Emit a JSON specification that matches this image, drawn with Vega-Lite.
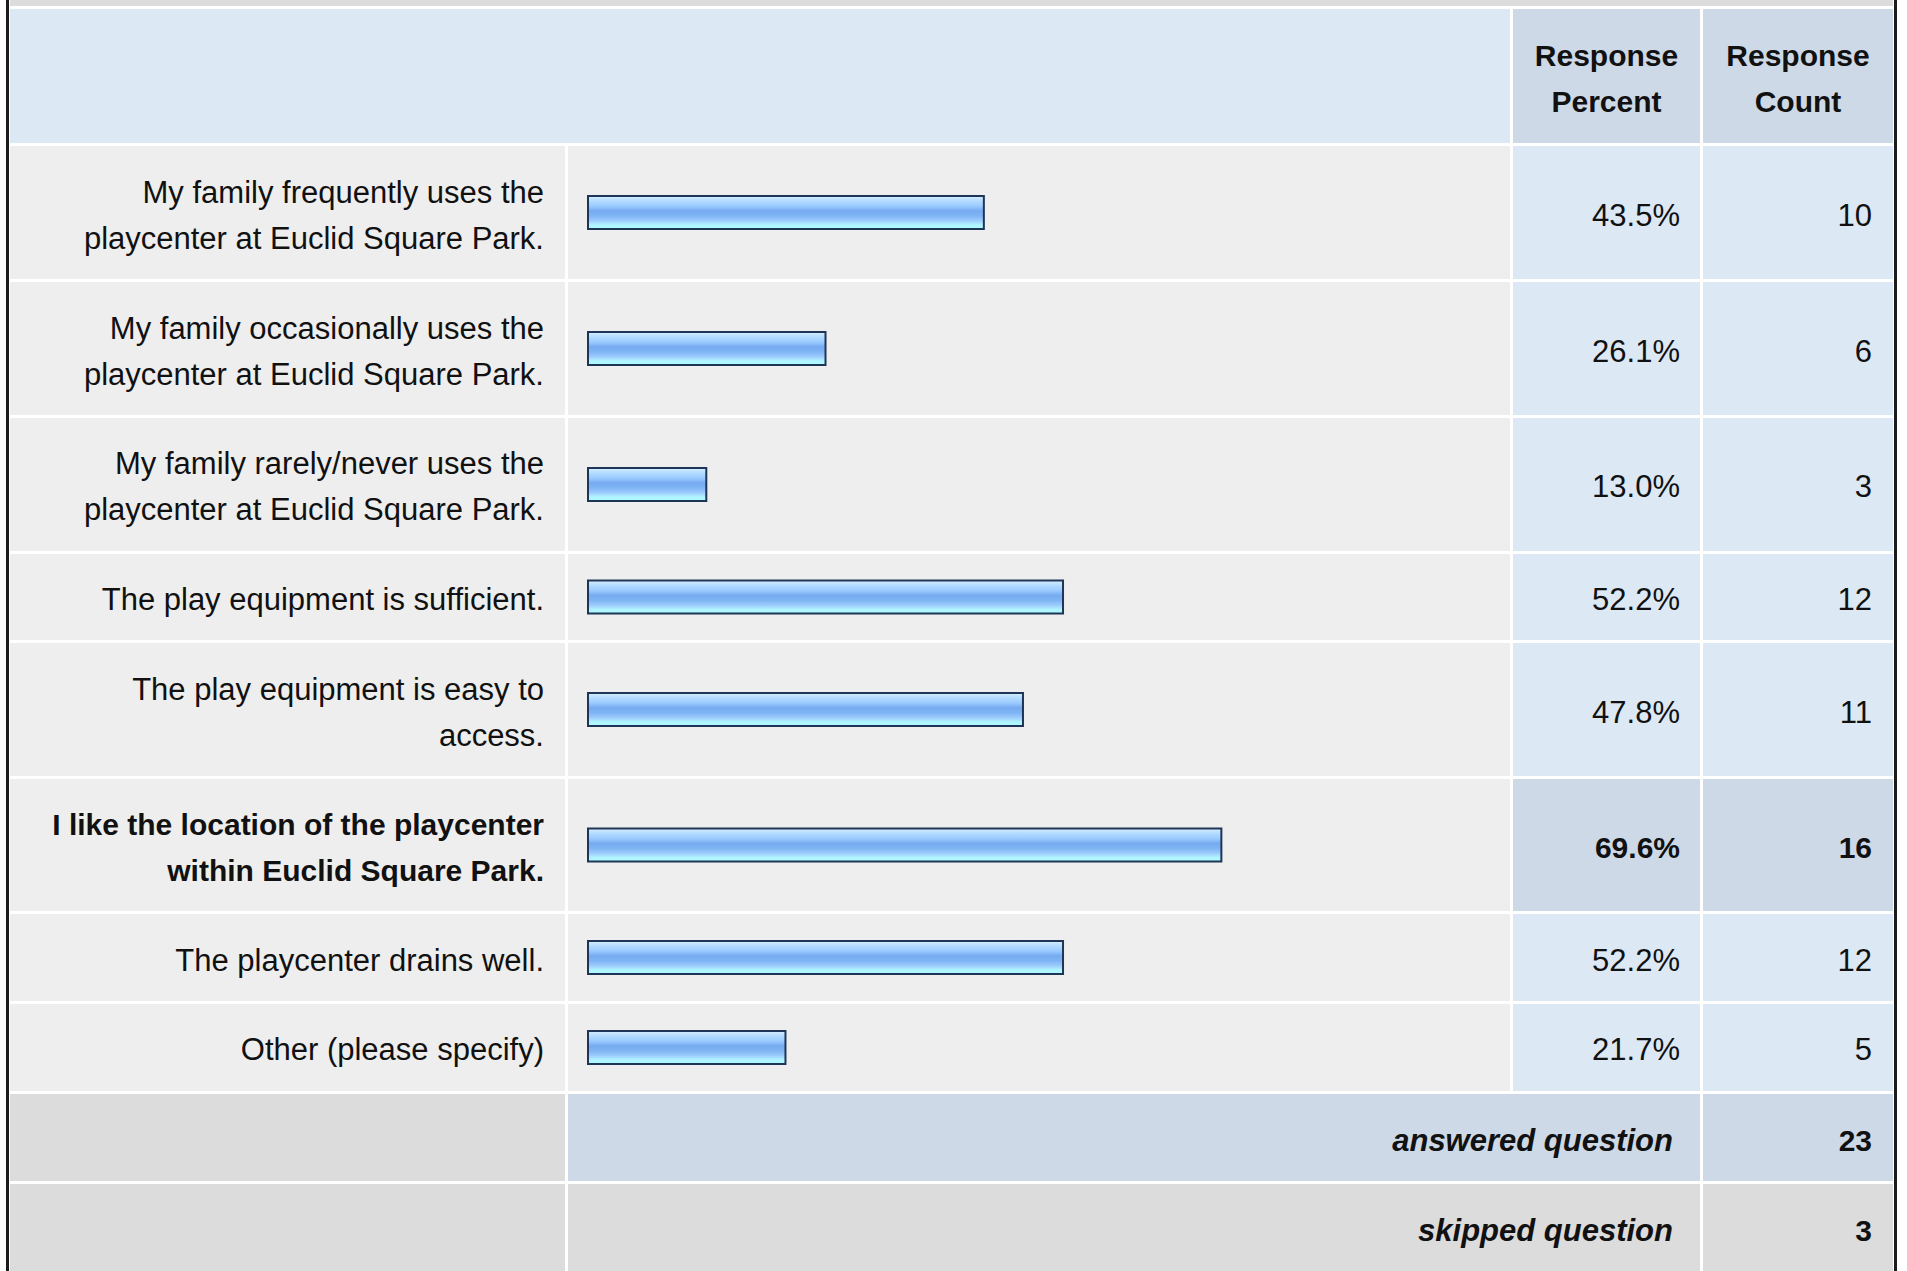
{
  "$schema": "https://vega.github.io/schema/vega-lite/v6.json",
  "padding": {"left": 6, "top": 0, "right": 0, "bottom": 0},
  "background": "white",
  "config": {
    "view": {"stroke": null},
    "font": "Liberation Sans",
    "text": {"font": "Liberation Sans", "fontSize": 31, "color": "#111111"},
    "concat": {"spacing": 3}
  },
  "datasets": {
    "rows": [
      {"id": 1, "answer": "My family frequently uses the\nplaycenter at Euclid Square Park.", "pct": 0.435, "count": 10},
      {"id": 2, "answer": "My family occasionally uses the\nplaycenter at Euclid Square Park.", "pct": 0.261, "count": 6},
      {"id": 3, "answer": "My family rarely/never uses the\nplaycenter at Euclid Square Park.", "pct": 0.130, "count": 3},
      {"id": 4, "answer": "The play equipment is sufficient.", "pct": 0.522, "count": 12},
      {"id": 5, "answer": "The play equipment is easy to\naccess.", "pct": 0.478, "count": 11},
      {"id": 6, "answer": "I like the location of the playcenter\nwithin Euclid Square Park.", "pct": 0.696, "count": 16},
      {"id": 7, "answer": "The playcenter drains well.", "pct": 0.522, "count": 12},
      {"id": 8, "answer": "Other (please specify)", "pct": 0.217, "count": 5}
    ],
    "totals": [
      {"label": "answered question", "n": 23},
      {"label": "skipped question", "n": 3}
    ],
    "headers": [
      {"col": "pct", "h": "Response\nPercent"},
      {"col": "count", "h": "Response\nCount"}
    ]
  },
  "spacing": 1,
  "hconcat": [
    {"width": 3, "height": 1271, "data": {"values": [{}]}, "mark": {"type": "rect", "opacity": 0}, "encoding": {}, "view": {"fill": "#1c1c1c", "stroke": null}},
    {
      "spacing": 3,
      "vconcat": [
        {"width": 1883, "height": 6, "data": {"values": [{}]}, "mark": {"type": "rect", "opacity": 0}, "encoding": {}, "view": {"fill": "#dcdcdc", "stroke": null}},
        {
          "hconcat": [
            {"width": 1500, "height": 134, "data": {"values": [{}]}, "mark": {"type": "rect", "opacity": 0}, "encoding": {}, "view": {"fill": "#dde8f5", "stroke": null}},
            {"width": 187, "height": 134, "data": {"name": "headers"}, "transform": [{"filter": "datum.col == 'pct'"}], "view": {"fill": "#cdd9e6", "stroke": null},
             "mark": {"type": "text", "fontWeight": "bold", "fontSize": 30, "lineBreak": "\n", "lineHeight": 46, "baseline": "middle", "align": "center", "dy": -19},
             "encoding": {"text": {"field": "h"}, "x": {"field": "h", "type": "nominal", "axis": null}, "y": {"field": "h", "type": "nominal", "axis": null}}},
            {"width": 190, "height": 134, "data": {"name": "headers"}, "transform": [{"filter": "datum.col == 'count'"}], "view": {"fill": "#cdd9e6", "stroke": null},
             "mark": {"type": "text", "fontWeight": "bold", "fontSize": 30, "lineBreak": "\n", "lineHeight": 46, "baseline": "middle", "align": "center", "dy": -19},
             "encoding": {"text": {"field": "h"}, "x": {"field": "h", "type": "nominal", "axis": null}, "y": {"field": "h", "type": "nominal", "axis": null}}}
          ]
        },
        {
          "hconcat": [
            {"width": 555, "height": 405, "data": {"name": "rows"}, "transform": [{"filter": "datum.id <= 3"}],
             "encoding": {"y": {"field": "id", "type": "ordinal", "axis": null, "scale": {"type": "band", "paddingInner": 0.022, "paddingOuter": 0}}},
             "layer": [
               {"mark": {"type": "rect", "color": "#eeeeee"}, "encoding": {"x": {"value": 0}, "x2": {"value": "width"}}},
               {"mark": {"type": "text", "align": "right", "baseline": "middle", "dx": -21, "dy": -19, "lineBreak": "\n", "lineHeight": 46}, "encoding": {"x": {"value": "width"}, "text": {"field": "answer"}}}
             ]},
            {"width": 942, "height": 405, "data": {"name": "rows"}, "transform": [{"filter": "datum.id <= 3"}],
             "encoding": {"y": {"field": "id", "type": "ordinal", "axis": null, "scale": {"type": "band", "paddingInner": 0.022, "paddingOuter": 0}}},
             "layer": [
               {"mark": {"type": "rect", "color": "#eeeeee"}, "encoding": {"x": {"value": 0}, "x2": {"value": "width"}}},
               {"mark": {"type": "bar", "size": 33, "stroke": "#1e3557", "strokeWidth": 2, "fill": {"gradient": "linear", "x1": 0, "y1": 0, "x2": 0, "y2": 1, "stops": [{"offset": 0, "color": "#d8eeff"}, {"offset": 0.15, "color": "#b3dbff"}, {"offset": 0.3, "color": "#9bcbff"}, {"offset": 0.45, "color": "#76abf1"}, {"offset": 0.6, "color": "#7fb4f4"}, {"offset": 0.75, "color": "#9dccfd"}, {"offset": 0.87, "color": "#b0f2ff"}, {"offset": 1, "color": "#aefefe"}]}},
                "encoding": {"x": {"field": "pct", "type": "quantitative", "axis": null, "scale": {"domain": [0, 1], "range": [20, 930]}}}}
             ]},
            {"width": 187, "height": 405, "data": {"name": "rows"}, "transform": [{"filter": "datum.id <= 3"}],
             "encoding": {"y": {"field": "id", "type": "ordinal", "axis": null, "scale": {"type": "band", "paddingInner": 0.022, "paddingOuter": 0}}},
             "layer": [
               {"mark": {"type": "rect", "color": "#dde8f5"}, "encoding": {"x": {"value": 0}, "x2": {"value": "width"}}},
               {"mark": {"type": "text", "align": "right", "baseline": "middle", "dx": -20, "dy": 4}, "encoding": {"x": {"value": "width"}, "text": {"field": "pct", "type": "quantitative", "format": ".1%"}}}
             ]},
            {"width": 190, "height": 405, "data": {"name": "rows"}, "transform": [{"filter": "datum.id <= 3"}],
             "encoding": {"y": {"field": "id", "type": "ordinal", "axis": null, "scale": {"type": "band", "paddingInner": 0.022, "paddingOuter": 0}}},
             "layer": [
               {"mark": {"type": "rect", "color": "#dde8f5"}, "encoding": {"x": {"value": 0}, "x2": {"value": "width"}}},
               {"mark": {"type": "text", "align": "right", "baseline": "middle", "dx": -21, "dy": 4}, "encoding": {"x": {"value": "width"}, "text": {"field": "count", "type": "quantitative"}}}
             ]}
          ]
        },
        {
          "hconcat": [
            {"width": 555, "height": 86, "data": {"name": "rows"}, "transform": [{"filter": "datum.id == 4"}],
             "encoding": {"y": {"field": "id", "type": "ordinal", "axis": null, "scale": {"type": "band", "paddingInner": 0, "paddingOuter": 0}}},
             "layer": [
               {"mark": {"type": "rect", "color": "#eeeeee"}, "encoding": {"x": {"value": 0}, "x2": {"value": "width"}}},
               {"mark": {"type": "text", "align": "right", "baseline": "middle", "dx": -21, "dy": 4, "lineBreak": "\n", "lineHeight": 46}, "encoding": {"x": {"value": "width"}, "text": {"field": "answer"}}}
             ]},
            {"width": 942, "height": 86, "data": {"name": "rows"}, "transform": [{"filter": "datum.id == 4"}],
             "encoding": {"y": {"field": "id", "type": "ordinal", "axis": null, "scale": {"type": "band", "paddingInner": 0, "paddingOuter": 0}}},
             "layer": [
               {"mark": {"type": "rect", "color": "#eeeeee"}, "encoding": {"x": {"value": 0}, "x2": {"value": "width"}}},
               {"mark": {"type": "bar", "size": 33, "stroke": "#1e3557", "strokeWidth": 2, "fill": {"gradient": "linear", "x1": 0, "y1": 0, "x2": 0, "y2": 1, "stops": [{"offset": 0, "color": "#d8eeff"}, {"offset": 0.15, "color": "#b3dbff"}, {"offset": 0.3, "color": "#9bcbff"}, {"offset": 0.45, "color": "#76abf1"}, {"offset": 0.6, "color": "#7fb4f4"}, {"offset": 0.75, "color": "#9dccfd"}, {"offset": 0.87, "color": "#b0f2ff"}, {"offset": 1, "color": "#aefefe"}]}},
                "encoding": {"x": {"field": "pct", "type": "quantitative", "axis": null, "scale": {"domain": [0, 1], "range": [20, 930]}}}}
             ]},
            {"width": 187, "height": 86, "data": {"name": "rows"}, "transform": [{"filter": "datum.id == 4"}],
             "encoding": {"y": {"field": "id", "type": "ordinal", "axis": null, "scale": {"type": "band", "paddingInner": 0, "paddingOuter": 0}}},
             "layer": [
               {"mark": {"type": "rect", "color": "#dde8f5"}, "encoding": {"x": {"value": 0}, "x2": {"value": "width"}}},
               {"mark": {"type": "text", "align": "right", "baseline": "middle", "dx": -20, "dy": 4}, "encoding": {"x": {"value": "width"}, "text": {"field": "pct", "type": "quantitative", "format": ".1%"}}}
             ]},
            {"width": 190, "height": 86, "data": {"name": "rows"}, "transform": [{"filter": "datum.id == 4"}],
             "encoding": {"y": {"field": "id", "type": "ordinal", "axis": null, "scale": {"type": "band", "paddingInner": 0, "paddingOuter": 0}}},
             "layer": [
               {"mark": {"type": "rect", "color": "#dde8f5"}, "encoding": {"x": {"value": 0}, "x2": {"value": "width"}}},
               {"mark": {"type": "text", "align": "right", "baseline": "middle", "dx": -21, "dy": 4}, "encoding": {"x": {"value": "width"}, "text": {"field": "count", "type": "quantitative"}}}
             ]}
          ]
        },
        {
          "hconcat": [
            {"width": 555, "height": 133, "data": {"name": "rows"}, "transform": [{"filter": "datum.id == 5"}],
             "encoding": {"y": {"field": "id", "type": "ordinal", "axis": null, "scale": {"type": "band", "paddingInner": 0, "paddingOuter": 0}}},
             "layer": [
               {"mark": {"type": "rect", "color": "#eeeeee"}, "encoding": {"x": {"value": 0}, "x2": {"value": "width"}}},
               {"mark": {"type": "text", "align": "right", "baseline": "middle", "dx": -21, "dy": -19, "lineBreak": "\n", "lineHeight": 46}, "encoding": {"x": {"value": "width"}, "text": {"field": "answer"}}}
             ]},
            {"width": 942, "height": 133, "data": {"name": "rows"}, "transform": [{"filter": "datum.id == 5"}],
             "encoding": {"y": {"field": "id", "type": "ordinal", "axis": null, "scale": {"type": "band", "paddingInner": 0, "paddingOuter": 0}}},
             "layer": [
               {"mark": {"type": "rect", "color": "#eeeeee"}, "encoding": {"x": {"value": 0}, "x2": {"value": "width"}}},
               {"mark": {"type": "bar", "size": 33, "stroke": "#1e3557", "strokeWidth": 2, "fill": {"gradient": "linear", "x1": 0, "y1": 0, "x2": 0, "y2": 1, "stops": [{"offset": 0, "color": "#d8eeff"}, {"offset": 0.15, "color": "#b3dbff"}, {"offset": 0.3, "color": "#9bcbff"}, {"offset": 0.45, "color": "#76abf1"}, {"offset": 0.6, "color": "#7fb4f4"}, {"offset": 0.75, "color": "#9dccfd"}, {"offset": 0.87, "color": "#b0f2ff"}, {"offset": 1, "color": "#aefefe"}]}},
                "encoding": {"x": {"field": "pct", "type": "quantitative", "axis": null, "scale": {"domain": [0, 1], "range": [20, 930]}}}}
             ]},
            {"width": 187, "height": 133, "data": {"name": "rows"}, "transform": [{"filter": "datum.id == 5"}],
             "encoding": {"y": {"field": "id", "type": "ordinal", "axis": null, "scale": {"type": "band", "paddingInner": 0, "paddingOuter": 0}}},
             "layer": [
               {"mark": {"type": "rect", "color": "#dde8f5"}, "encoding": {"x": {"value": 0}, "x2": {"value": "width"}}},
               {"mark": {"type": "text", "align": "right", "baseline": "middle", "dx": -20, "dy": 4}, "encoding": {"x": {"value": "width"}, "text": {"field": "pct", "type": "quantitative", "format": ".1%"}}}
             ]},
            {"width": 190, "height": 133, "data": {"name": "rows"}, "transform": [{"filter": "datum.id == 5"}],
             "encoding": {"y": {"field": "id", "type": "ordinal", "axis": null, "scale": {"type": "band", "paddingInner": 0, "paddingOuter": 0}}},
             "layer": [
               {"mark": {"type": "rect", "color": "#dde8f5"}, "encoding": {"x": {"value": 0}, "x2": {"value": "width"}}},
               {"mark": {"type": "text", "align": "right", "baseline": "middle", "dx": -21, "dy": 4}, "encoding": {"x": {"value": "width"}, "text": {"field": "count", "type": "quantitative"}}}
             ]}
          ]
        },
        {
          "hconcat": [
            {"width": 555, "height": 132, "data": {"name": "rows"}, "transform": [{"filter": "datum.id == 6"}],
             "encoding": {"y": {"field": "id", "type": "ordinal", "axis": null, "scale": {"type": "band", "paddingInner": 0, "paddingOuter": 0}}},
             "layer": [
               {"mark": {"type": "rect", "color": "#eeeeee"}, "encoding": {"x": {"value": 0}, "x2": {"value": "width"}}},
               {"mark": {"type": "text", "align": "right", "baseline": "middle", "dx": -21, "dy": -19, "fontWeight": "bold", "fontSize": 30, "lineBreak": "\n", "lineHeight": 46}, "encoding": {"x": {"value": "width"}, "text": {"field": "answer"}}}
             ]},
            {"width": 942, "height": 132, "data": {"name": "rows"}, "transform": [{"filter": "datum.id == 6"}],
             "encoding": {"y": {"field": "id", "type": "ordinal", "axis": null, "scale": {"type": "band", "paddingInner": 0, "paddingOuter": 0}}},
             "layer": [
               {"mark": {"type": "rect", "color": "#eeeeee"}, "encoding": {"x": {"value": 0}, "x2": {"value": "width"}}},
               {"mark": {"type": "bar", "size": 33, "stroke": "#1e3557", "strokeWidth": 2, "fill": {"gradient": "linear", "x1": 0, "y1": 0, "x2": 0, "y2": 1, "stops": [{"offset": 0, "color": "#d8eeff"}, {"offset": 0.15, "color": "#b3dbff"}, {"offset": 0.3, "color": "#9bcbff"}, {"offset": 0.45, "color": "#76abf1"}, {"offset": 0.6, "color": "#7fb4f4"}, {"offset": 0.75, "color": "#9dccfd"}, {"offset": 0.87, "color": "#b0f2ff"}, {"offset": 1, "color": "#aefefe"}]}},
                "encoding": {"x": {"field": "pct", "type": "quantitative", "axis": null, "scale": {"domain": [0, 1], "range": [20, 930]}}}}
             ]},
            {"width": 187, "height": 132, "data": {"name": "rows"}, "transform": [{"filter": "datum.id == 6"}],
             "encoding": {"y": {"field": "id", "type": "ordinal", "axis": null, "scale": {"type": "band", "paddingInner": 0, "paddingOuter": 0}}},
             "layer": [
               {"mark": {"type": "rect", "color": "#cdd9e6"}, "encoding": {"x": {"value": 0}, "x2": {"value": "width"}}},
               {"mark": {"type": "text", "align": "right", "baseline": "middle", "dx": -20, "dy": 4, "fontWeight": "bold", "fontSize": 30}, "encoding": {"x": {"value": "width"}, "text": {"field": "pct", "type": "quantitative", "format": ".1%"}}}
             ]},
            {"width": 190, "height": 132, "data": {"name": "rows"}, "transform": [{"filter": "datum.id == 6"}],
             "encoding": {"y": {"field": "id", "type": "ordinal", "axis": null, "scale": {"type": "band", "paddingInner": 0, "paddingOuter": 0}}},
             "layer": [
               {"mark": {"type": "rect", "color": "#cdd9e6"}, "encoding": {"x": {"value": 0}, "x2": {"value": "width"}}},
               {"mark": {"type": "text", "align": "right", "baseline": "middle", "dx": -21, "dy": 4, "fontWeight": "bold", "fontSize": 30}, "encoding": {"x": {"value": "width"}, "text": {"field": "count", "type": "quantitative"}}}
             ]}
          ]
        },
        {
          "hconcat": [
            {"width": 555, "height": 177, "data": {"name": "rows"}, "transform": [{"filter": "datum.id >= 7"}],
             "encoding": {"y": {"field": "id", "type": "ordinal", "axis": null, "scale": {"type": "band", "paddingInner": 0.0333, "paddingOuter": 0}}},
             "layer": [
               {"mark": {"type": "rect", "color": "#eeeeee"}, "encoding": {"x": {"value": 0}, "x2": {"value": "width"}}},
               {"mark": {"type": "text", "align": "right", "baseline": "middle", "dx": -21, "dy": 4, "lineBreak": "\n", "lineHeight": 46}, "encoding": {"x": {"value": "width"}, "text": {"field": "answer"}}}
             ]},
            {"width": 942, "height": 177, "data": {"name": "rows"}, "transform": [{"filter": "datum.id >= 7"}],
             "encoding": {"y": {"field": "id", "type": "ordinal", "axis": null, "scale": {"type": "band", "paddingInner": 0.0333, "paddingOuter": 0}}},
             "layer": [
               {"mark": {"type": "rect", "color": "#eeeeee"}, "encoding": {"x": {"value": 0}, "x2": {"value": "width"}}},
               {"mark": {"type": "bar", "size": 33, "stroke": "#1e3557", "strokeWidth": 2, "fill": {"gradient": "linear", "x1": 0, "y1": 0, "x2": 0, "y2": 1, "stops": [{"offset": 0, "color": "#d8eeff"}, {"offset": 0.15, "color": "#b3dbff"}, {"offset": 0.3, "color": "#9bcbff"}, {"offset": 0.45, "color": "#76abf1"}, {"offset": 0.6, "color": "#7fb4f4"}, {"offset": 0.75, "color": "#9dccfd"}, {"offset": 0.87, "color": "#b0f2ff"}, {"offset": 1, "color": "#aefefe"}]}},
                "encoding": {"x": {"field": "pct", "type": "quantitative", "axis": null, "scale": {"domain": [0, 1], "range": [20, 930]}}}}
             ]},
            {"width": 187, "height": 177, "data": {"name": "rows"}, "transform": [{"filter": "datum.id >= 7"}],
             "encoding": {"y": {"field": "id", "type": "ordinal", "axis": null, "scale": {"type": "band", "paddingInner": 0.0333, "paddingOuter": 0}}},
             "layer": [
               {"mark": {"type": "rect", "color": "#dde8f5"}, "encoding": {"x": {"value": 0}, "x2": {"value": "width"}}},
               {"mark": {"type": "text", "align": "right", "baseline": "middle", "dx": -20, "dy": 4}, "encoding": {"x": {"value": "width"}, "text": {"field": "pct", "type": "quantitative", "format": ".1%"}}}
             ]},
            {"width": 190, "height": 177, "data": {"name": "rows"}, "transform": [{"filter": "datum.id >= 7"}],
             "encoding": {"y": {"field": "id", "type": "ordinal", "axis": null, "scale": {"type": "band", "paddingInner": 0.0333, "paddingOuter": 0}}},
             "layer": [
               {"mark": {"type": "rect", "color": "#dde8f5"}, "encoding": {"x": {"value": 0}, "x2": {"value": "width"}}},
               {"mark": {"type": "text", "align": "right", "baseline": "middle", "dx": -21, "dy": 4}, "encoding": {"x": {"value": "width"}, "text": {"field": "count", "type": "quantitative"}}}
             ]}
          ]
        },
        {
          "hconcat": [
            {"width": 555, "height": 87, "data": {"values": [{}]}, "mark": {"type": "rect", "opacity": 0}, "encoding": {}, "view": {"fill": "#dcdcdc", "stroke": null}},
            {"width": 1132, "height": 87, "data": {"name": "totals"}, "transform": [{"filter": "datum.label == 'answered question'"}], "view": {"fill": "#cdd9e6", "stroke": null},
             "mark": {"type": "text", "align": "right", "baseline": "middle", "dx": -27, "dy": 4, "fontWeight": "bold", "fontStyle": "italic"},
             "encoding": {"x": {"value": "width"}, "y": {"field": "label", "type": "nominal", "axis": null}, "text": {"field": "label"}}},
            {"width": 190, "height": 87, "data": {"name": "totals"}, "transform": [{"filter": "datum.label == 'answered question'"}], "view": {"fill": "#cdd9e6", "stroke": null},
             "mark": {"type": "text", "align": "right", "baseline": "middle", "dx": -21, "dy": 4, "fontWeight": "bold", "fontSize": 30},
             "encoding": {"x": {"value": "width"}, "y": {"field": "label", "type": "nominal", "axis": null}, "text": {"field": "n", "type": "quantitative"}}}
          ]
        },
        {
          "hconcat": [
            {"width": 555, "height": 87, "data": {"values": [{}]}, "mark": {"type": "rect", "opacity": 0}, "encoding": {}, "view": {"fill": "#dcdcdc", "stroke": null}},
            {"width": 1132, "height": 87, "data": {"name": "totals"}, "transform": [{"filter": "datum.label == 'skipped question'"}], "view": {"fill": "#dcdcdc", "stroke": null},
             "mark": {"type": "text", "align": "right", "baseline": "middle", "dx": -27, "dy": 4, "fontWeight": "bold", "fontStyle": "italic"},
             "encoding": {"x": {"value": "width"}, "y": {"field": "label", "type": "nominal", "axis": null}, "text": {"field": "label"}}},
            {"width": 190, "height": 87, "data": {"name": "totals"}, "transform": [{"filter": "datum.label == 'skipped question'"}], "view": {"fill": "#dcdcdc", "stroke": null},
             "mark": {"type": "text", "align": "right", "baseline": "middle", "dx": -21, "dy": 4, "fontWeight": "bold", "fontSize": 30},
             "encoding": {"x": {"value": "width"}, "y": {"field": "label", "type": "nominal", "axis": null}, "text": {"field": "n", "type": "quantitative"}}}
          ]
        }
      ]
    },
    {"width": 3, "height": 1271, "data": {"values": [{}]}, "mark": {"type": "rect", "opacity": 0}, "encoding": {}, "view": {"fill": "#1c1c1c", "stroke": null}}
  ]
}
